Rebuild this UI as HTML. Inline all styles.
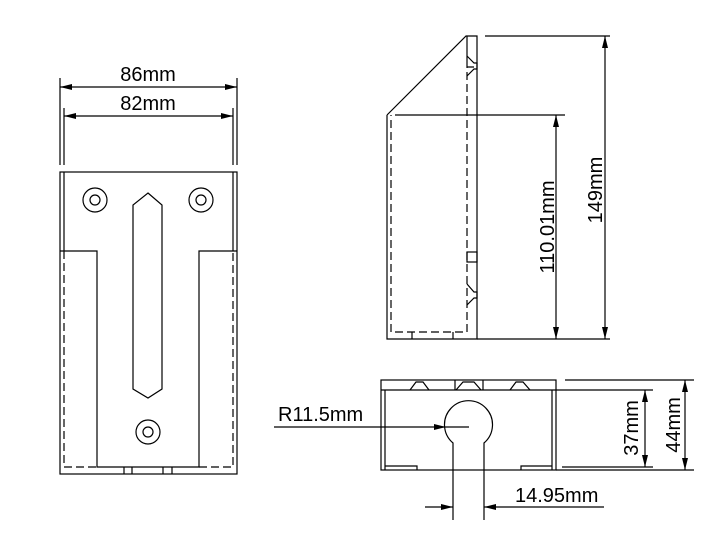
<!DOCTYPE html>
<html><head><style>body{margin:0;background:#fff}svg{display:block}text{font-family:"Liberation Sans",sans-serif;font-size:20px;fill:#000}</style></head>
<body>
<svg width="727" height="536" viewBox="0 0 727 536" xmlns="http://www.w3.org/2000/svg">
<defs>
<marker id="a" viewBox="0 0 12 6" refX="12" refY="3" markerWidth="12" markerHeight="6" orient="auto-start-reverse" markerUnits="userSpaceOnUse"><path d="M0,0L12,3L0,6z" fill="#000"/></marker>
</defs>
<g stroke="#000" stroke-width="1.2" fill="none">
<rect x="60" y="172" width="177" height="302"/>
<line x1="64" y1="172" x2="64" y2="251"/>
<line x1="233" y1="172" x2="233" y2="251"/>
<polyline points="60,251 97,251 97,467 199,467 199,251 237,251"/>
<path d="M64,251V467H97M199,467H233V251" stroke-dasharray="8,4"/>
<path d="M124,467V474M132,467V474M163,467V474M172,467V474"/>
<circle cx="95" cy="200" r="12"/><circle cx="95" cy="200" r="5"/>
<circle cx="201" cy="200" r="12"/><circle cx="201" cy="200" r="5"/>
<circle cx="148" cy="432" r="12"/><circle cx="148" cy="432" r="5"/>
<polygon points="148,193 162,205 162,389 148,398 133,389 133,205"/>
<path d="M60,78V165M237,78V165M64,108V165M233,108V165"/>
<line x1="60" y1="87" x2="237" y2="87" marker-start="url(#a)" marker-end="url(#a)"/>
<line x1="64" y1="116" x2="233" y2="116" marker-start="url(#a)" marker-end="url(#a)"/>
<polyline points="387,115 466,36 477,36 477,339 387,339 387,115"/>
<line x1="467" y1="36" x2="467" y2="60"/>
<path d="M467,60V332H391V115" stroke-dasharray="8,4"/>
<path d="M412,332V339M453,332V339"/>
<path d="M467,56L474,63H477V69H474L467,76M467,67H474"/>
<rect x="467" y="252" width="10" height="10"/>
<path d="M467,284L474,292H477V298H474L467,305"/>
<line x1="395" y1="115" x2="565" y2="115"/>
<path d="M485,36H610M477,339H610"/>
<line x1="605" y1="36" x2="605" y2="339" marker-start="url(#a)" marker-end="url(#a)"/>
<line x1="556" y1="115" x2="556" y2="339" marker-start="url(#a)" marker-end="url(#a)"/>
<rect x="381" y="380" width="175" height="90"/>
<line x1="381" y1="390" x2="556" y2="390"/>
<path d="M385,390V470M552,390V470M385,466H417V470M552,466H521V470"/>
<path d="M455,380V390M483,380V390"/>
<path d="M410,390L416,382H423L429,390M456,390L463,382H474L481,390M510,390L516,382H523L530,390"/>
<path d="M453,520V443A24,24 0 1 1 484,443V520"/>
<line x1="274" y1="427" x2="446" y2="427" marker-end="url(#a)"/>
<line x1="446" y1="427" x2="469" y2="427"/>
<line x1="425" y1="507" x2="453" y2="507" marker-end="url(#a)"/>
<line x1="604" y1="507" x2="484" y2="507" marker-end="url(#a)"/>
<path d="M565,380H694M556,390H653M562,467H653M556,470H694"/>
<line x1="645" y1="390" x2="645" y2="467" marker-start="url(#a)" marker-end="url(#a)"/>
<line x1="685" y1="380" x2="685" y2="470" marker-start="url(#a)" marker-end="url(#a)"/>
</g>
<text x="148" y="81" text-anchor="middle">86mm</text>
<text x="148" y="110" text-anchor="middle">82mm</text>
<text transform="translate(602,190) rotate(-90)" text-anchor="middle">149mm</text>
<text transform="translate(554,227) rotate(-90)" text-anchor="middle">110.01mm</text>
<text x="278" y="421">R11.5mm</text>
<text x="515" y="502">14.95mm</text>
<text transform="translate(638,428) rotate(-90)" text-anchor="middle">37mm</text>
<text transform="translate(680,425) rotate(-90)" text-anchor="middle">44mm</text>
</svg>
</body></html>
